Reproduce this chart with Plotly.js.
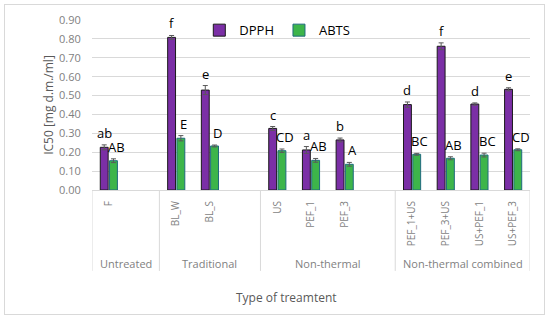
<!DOCTYPE html>
<html>
<head>
<meta charset="utf-8">
<script src="https://cdn.plot.ly/plotly-3.0.1.min.js"></script>
<style>
html,body{margin:0;padding:0;background:#fff;}
#frame{position:absolute;left:4px;top:4px;width:541px;height:311px;border:1px solid #d9d9d9;box-sizing:border-box;}
#chart{position:absolute;left:0;top:0;width:550px;height:322px;}
</style>
</head>
<body>
<div id="frame"></div>
<div id="chart"></div>
<script>
// ---- data ----
const groups = ['Untreated', 'Traditional', 'Non-thermal', 'Non-thermal combined'];
const groupMembers = [
  ['F'],
  ['BL_W', 'BL_S'],
  ['US', 'PEF_1', 'PEF_3'],
  ['PEF_1+US', 'PEF_3+US', 'US+PEF_1', 'US+PEF_3']
];
const groupSlots = [2, 3, 4, 4]; // category slots per group (Excel leaves an empty slot)
const categories = ['F', 'BL_W', 'BL_S', 'US', 'PEF_1', 'PEF_3', 'PEF_1+US', 'PEF_3+US', 'US+PEF_1', 'US+PEF_3'];
const dpph    = [0.226, 0.808, 0.529, 0.326, 0.212, 0.265, 0.452, 0.761, 0.455, 0.533];
const dpphErr = [0.013, 0.010, 0.024, 0.010, 0.018, 0.010, 0.014, 0.018, 0.006, 0.008];
const abts    = [0.155, 0.274, 0.233, 0.208, 0.157, 0.136, 0.189, 0.168, 0.185, 0.213];
const abtsErr = [0.010, 0.014, 0.005, 0.009, 0.010, 0.010, 0.005, 0.008, 0.010, 0.005];
const dpphLetters = ['ab', 'f', 'e', 'c', 'a', 'b', 'd', 'f', 'd', 'e'];
const abtsLetters = ['AB', 'E', 'D', 'CD', 'AB', 'A', 'BC', 'AB', 'BC', 'CD'];

// ---- slot positions from group structure ----
const xpos = [];
const boundaries = [-0.5];
let start = 0;
groupMembers.forEach((mem, gi) => {
  mem.forEach((c, i) => xpos.push(start + i));
  start += groupSlots[gi];
  boundaries.push(start - 0.5);
});
const totalSlots = start;

const bargap = 0.45;
const half = (1 - bargap) / 4;
const gray = '#7f7f7f';
const font = 'Open Sans, Noto Sans, sans-serif';

const traces = [
  {
    type: 'bar', name: 'DPPH', x: xpos, y: dpph,
    marker: {color: '#7B2FA6', line: {color: '#1a1a1a', width: 1}},
    error_y: {type: 'data', array: dpphErr, visible: true, color: '#595959', thickness: 1, width: 2.5}
  },
  {
    type: 'bar', name: 'ABTS', x: xpos, y: abts,
    marker: {color: '#3DB54A', line: {color: '#1F6A7E', width: 1}},
    error_y: {type: 'data', array: abtsErr, visible: true, color: '#595959', thickness: 1, width: 2.5}
  }
];

const annotations = [];
xpos.forEach((x, i) => {
  annotations.push({x: x - half, y: dpph[i] + dpphErr[i], xref: 'x', yref: 'y', text: dpphLetters[i],
    showarrow: false, yanchor: 'bottom', yshift: 1, font: {family: font, size: 13, color: '#000'}});
  annotations.push({x: x + half, y: abts[i] + abtsErr[i], xref: 'x', yref: 'y', text: abtsLetters[i],
    showarrow: false, yanchor: 'bottom', yshift: 1, xshift: 3, font: {family: font, size: 13, color: '#000'}});
});
groups.forEach((g, gi) => {
  annotations.push({x: (boundaries[gi] + boundaries[gi + 1]) / 2, y: -0.43, xref: 'x', yref: 'paper',
    text: g, showarrow: false, yanchor: 'middle', font: {family: font, size: 11, color: gray}});
});
annotations.push({x: 0.445, y: -0.635, xref: 'paper', yref: 'paper', text: 'Type of treamtent',
  showarrow: false, yanchor: 'middle', font: {family: font, size: 12, color: '#595959'}});

const shapes = boundaries.map(b => ({type: 'line', xref: 'x', yref: 'paper', x0: b, x1: b, y0: 0, y1: -0.476,
  line: {color: '#d9d9d9', width: 1}}));

const layout = {
  width: 550, height: 322,
  paper_bgcolor: 'rgba(0,0,0,0)', plot_bgcolor: 'rgba(0,0,0,0)',
  margin: {l: 92, r: 20, t: 20, b: 132},
  barmode: 'group', bargap: bargap, bargroupgap: 0.15,
  showlegend: true,
  legend: {orientation: 'h', x: 0.245, y: 0.94, xanchor: 'left', yanchor: 'middle',
    font: {family: font, size: 13, color: '#000'}, itemwidth: 30, tracegroupgap: 0,
    bgcolor: 'rgba(0,0,0,0)'},
  xaxis: {
    range: [-0.5, totalSlots - 0.5], tickmode: 'array', tickvals: xpos, ticktext: categories,
    tickangle: -90, tickfont: {family: font, size: 10, color: gray},
    showgrid: false, zeroline: false, showline: true, linecolor: '#d9d9d9', ticks: '', ticklabelstandoff: 6
  },
  yaxis: {
    range: [0, 0.9], dtick: 0.1, tickformat: '.2f',
    tickfont: {family: font, size: 11, color: gray},
    ticks: 'outside', ticklen: 8, tickcolor: 'rgba(0,0,0,0)',
    gridcolor: '#d9d9d9', zeroline: false, showline: false,
    title: {text: 'IC50 [mg d.m./ml]', font: {family: font, size: 12, color: '#595959'}, standoff: 2}
  },
  annotations: annotations,
  shapes: shapes
};

Plotly.newPlot('chart', traces, layout, {displayModeBar: false, staticPlot: true});
</script>
</body>
</html>
